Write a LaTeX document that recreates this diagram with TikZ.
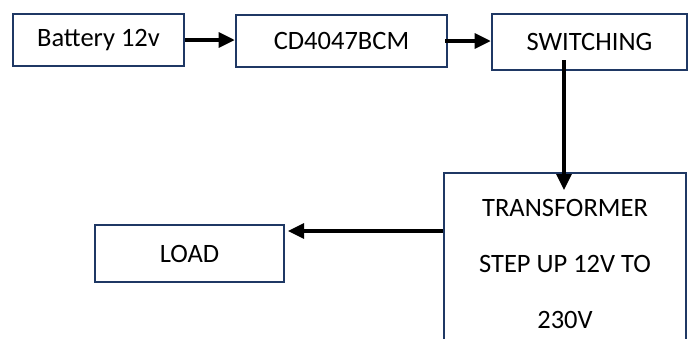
\documentclass[tikz,border=0pt]{standalone}
\usepackage{fontspec}
\setmainfont{Carlito}
\usetikzlibrary{arrows.meta}
\definecolor{boxblue}{HTML}{1F3864}
\begin{document}
\begin{tikzpicture}[x=1pt,y=-1pt,
  block/.style={draw=boxblue, line width=2.6pt, fill=white, inner sep=0pt,
    font=\fontsize{26.5}{56}\selectfont, text=black},
  flow/.style={line width=3.1pt, -{Triangle[length=16pt,width=15pt]}}]
\useasboundingbox (0,0) rectangle (689,338);

% blocks of the inverter chain
\node[block, minimum width=171pt, minimum height=52pt] (bat) at (98.5,40) {Battery 12v};
\node[block, minimum width=211pt, minimum height=52pt] (cd) at (341.5,41) {CD4047BCM};
\node[block, minimum width=195pt, minimum height=56pt] (sw) at (589.5,42) {SWITCHING};
\node[block, minimum width=242pt, minimum height=182pt, align=center] (tr) at (565,264)
  {TRANSFORMER\\STEP UP 12V TO\\230V};
\node[block, minimum width=189pt, minimum height=57pt] (load) at (189.5,253.5) {LOAD};

% connectors
\coordinate (drop) at (564,60);
\coordinate (feed) at (564,190);
\coordinate (loadin) at (288,231);
\draw[flow] (bat.east) -- (bat.east -| cd.west);
\draw[flow] ([xshift=-3pt]cd.east) -- (cd.east -| sw.west);
\draw[flow] (drop) -- (feed);
\draw[flow] (tr.west |- loadin) -- (loadin);
\end{tikzpicture}
\end{document}
